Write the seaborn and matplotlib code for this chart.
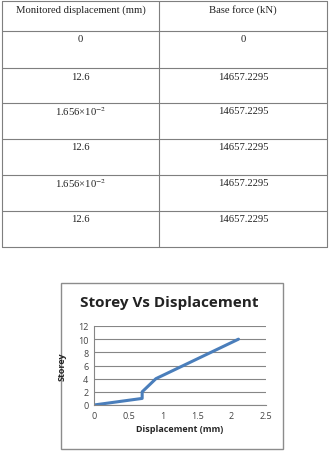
import matplotlib
matplotlib.use("Agg")
import matplotlib.pyplot as plt
import seaborn as sns
import pandas as pd
from matplotlib.patches import Rectangle

# ---- data ----
table_header = ["Monitored displacement (mm)", "Base force (kN)"]
col_displacement = ["0", "12.6", "1.656×10$^{-2}$", "12.6", "1.656×10$^{-2}$", "12.6"]
col_force = ["0", "14657.2295", "14657.2295", "14657.2295", "14657.2295", "14657.2295"]

displacement = [0.0, 0.7, 0.7, 0.8, 0.9, 1.1, 1.3, 1.5, 1.7, 1.9, 2.1]
storey = [0, 1, 2, 3, 4, 5, 6, 7, 8, 9, 10]
x_ticks = [0, 0.5, 1, 1.5, 2, 2.5]
y_ticks = [0, 2, 4, 6, 8, 10, 12]

sns.set_theme(style="white")
plt.rcParams["mathtext.fontset"] = "stix"

W, H = 329, 452
fig = plt.figure(figsize=(W / 100, H / 100), dpi=100)

# ---- overlay axes in pixel coords for table & chart frame ----
ov = fig.add_axes([0, 0, 1, 1])
ov.set_xlim(0, W)
ov.set_ylim(H, 0)
ov.axis("off")

tcol = "#7f7f7f"
left, mid, right = 2, 159, 327
row_lines = [2, 32, 69, 104, 140, 176, 212, 248]
for y in row_lines:
    ov.plot([left, right], [y, y], color=tcol, lw=0.8)
for x in (left, mid, right):
    ov.plot([x, x], [row_lines[0], row_lines[-1]], color=tcol, lw=0.8)

serif = ["Liberation Serif", "DejaVu Serif"]
tfs = 7.7
for i, h in enumerate(table_header):
    cx = (left + mid) / 2 if i == 0 else (mid + right) / 2
    ov.text(cx, 10, h, ha="center", va="center", fontsize=tfs, family=serif, color="#222222")
for r, (a, b) in enumerate(zip(col_displacement, col_force)):
    y = row_lines[r + 1] + 8
    ov.text((left + mid) / 2, y, a, ha="center", va="center", fontsize=tfs, family=serif, color="#222222")
    ov.text((mid + right) / 2, y, b, ha="center", va="center", fontsize=tfs, family=serif, color="#222222")

# chart frame
ov.add_patch(Rectangle((61, 284), 222, 166, fill=False, edgecolor="#8c8c8c", lw=1.0))
ov.text(169, 303, "Storey Vs Displacement", ha="center", va="center",
        fontsize=11, fontweight="bold", family=["Open Sans", "DejaVu Sans"], color="#222222")

# ---- chart axes ----
ax = fig.add_axes([94 / W, 1 - 406 / H, 172 / W, 79 / H])
df = pd.DataFrame({"Displacement": displacement, "Storey": storey})
sns.lineplot(data=df, x="Displacement", y="Storey", sort=False, estimator=None,
             color="#4a7ebb", lw=2.2, ax=ax)
ax.set_xlim(0, 2.5)
ax.set_ylim(0, 12)
ax.set_xticks(x_ticks)
ax.set_xticklabels(["0", "0.5", "1", "1.5", "2", "2.5"])
ax.set_yticks(y_ticks)
ax.grid(axis="y", color="#868686", lw=0.8)
ax.set_axisbelow(True)
for s in ("top", "right"):
    ax.spines[s].set_visible(False)
for s in ("left", "bottom"):
    ax.spines[s].set_color("#868686")
    ax.spines[s].set_linewidth(0.8)
sans = ["Open Sans", "DejaVu Sans"]
ax.tick_params(axis="both", labelsize=6.5, colors="#444444", length=0, pad=4)
for lab in ax.get_xticklabels() + ax.get_yticklabels():
    lab.set_family(sans)
ax.set_xlabel("Displacement (mm)", fontsize=6.5, fontweight="bold", family=sans, labelpad=3)
ax.set_ylabel("Storey", fontsize=6.5, fontweight="bold", family=sans, labelpad=8)

fig.savefig("out.png", dpi=100)
